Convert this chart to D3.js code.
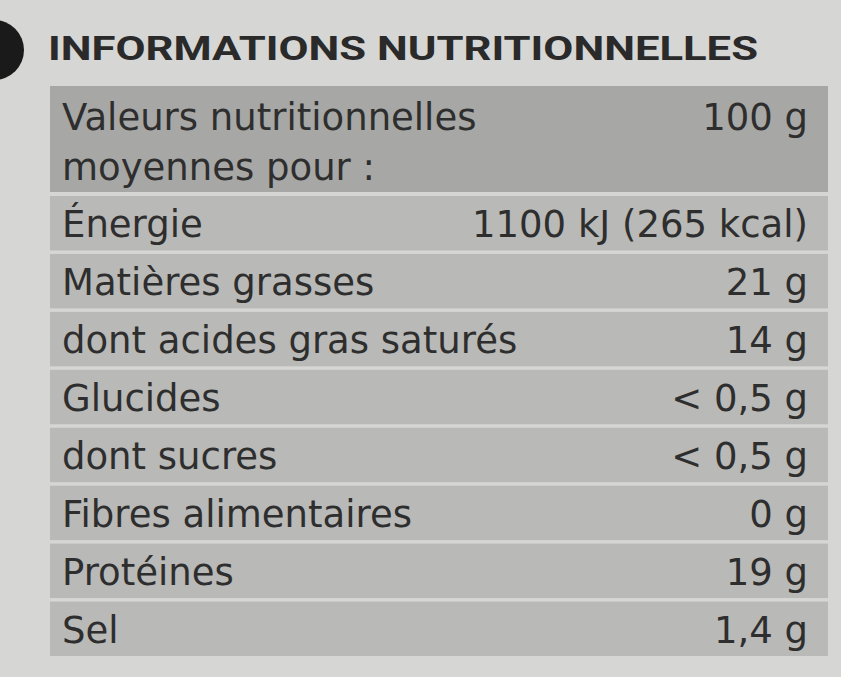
<!DOCTYPE html>
<html><head><meta charset="utf-8">
<script src="https://cdn.jsdelivr.net/npm/d3@7"></script>
<style>body{margin:0;background:#d6d6d4;}svg{display:block}</style>
</head><body><svg id="c"></svg>
<script>
// nutrition table rows
const TITLE = 'INFORMATIONS NUTRITIONNELLES';
const HEADER_LEFT = ['Valeurs nutritionnelles', 'moyennes pour :'];
const HEADER_RIGHT = '100 g';
const ROW_LABELS = ['Énergie', 'Matières grasses', 'dont acides gras saturés', 'Glucides',
  'dont sucres', 'Fibres alimentaires', 'Protéines', 'Sel'];
const ROW_VALUES = ['1100 kJ (265 kcal)', '21 g', '14 g', '< 0,5 g', '< 0,5 g', '0 g', '19 g', '1,4 g'];

const W = 841, H = 677;
const svg = d3.select('#c').attr('width', W).attr('height', H);
const font = '"DejaVu Sans", sans-serif';
const ink = '#2e2e2e';

svg.append('rect').attr('width', W).attr('height', H).attr('fill', '#d6d6d4');
// black badge at left edge
svg.append('circle').attr('cx', -6).attr('cy', 50).attr('r', 30).attr('fill', '#1a1a1a');

svg.append('text').attr('x', 48).attr('y', 60).text(TITLE)
  .attr('font-family', 'Roboto, sans-serif').attr('font-weight', 700).attr('font-size', 34)
  .attr('fill', '#2a2a2a').attr('textLength', 710).attr('lengthAdjust', 'spacingAndGlyphs');

const x0 = 50, x1 = 828;
// header block
svg.append('rect').attr('x', x0).attr('y', 86).attr('width', x1 - x0).attr('height', 106).attr('fill', '#a7a7a5');
HEADER_LEFT.forEach((t, i) => svg.append('text').attr('x', 62).attr('y', 130 + i * 50).text(t)
  .attr('font-family', font).attr('font-size', 37).attr('fill', ink));
svg.append('text').attr('x', 808).attr('y', 130).attr('text-anchor', 'end').text(HEADER_RIGHT)
  .attr('font-family', font).attr('font-size', 37).attr('fill', ink);

const y = d3.scaleBand().domain(d3.range(ROW_LABELS.length)).range([196, 656]).paddingInner(0.06);
const g = svg.append('g');
g.selectAll('rect').data(ROW_LABELS).join('rect')
  .attr('x', x0).attr('width', x1 - x0)
  .attr('y', (d, i) => y(i)).attr('height', y.bandwidth()).attr('fill', '#b9b9b7');
g.selectAll('text.l').data(ROW_LABELS).join('text').attr('class', 'l')
  .attr('x', 62).attr('y', (d, i) => y(i) + y.bandwidth() / 2 + 14).text(d => d)
  .attr('font-family', font).attr('font-size', 37).attr('fill', ink);
g.selectAll('text.v').data(ROW_VALUES).join('text').attr('class', 'v')
  .attr('x', 808).attr('text-anchor', 'end')
  .attr('y', (d, i) => y(i) + y.bandwidth() / 2 + 14).text(d => d)
  .attr('font-family', font).attr('font-size', 37).attr('fill', ink);
</script></body></html>
